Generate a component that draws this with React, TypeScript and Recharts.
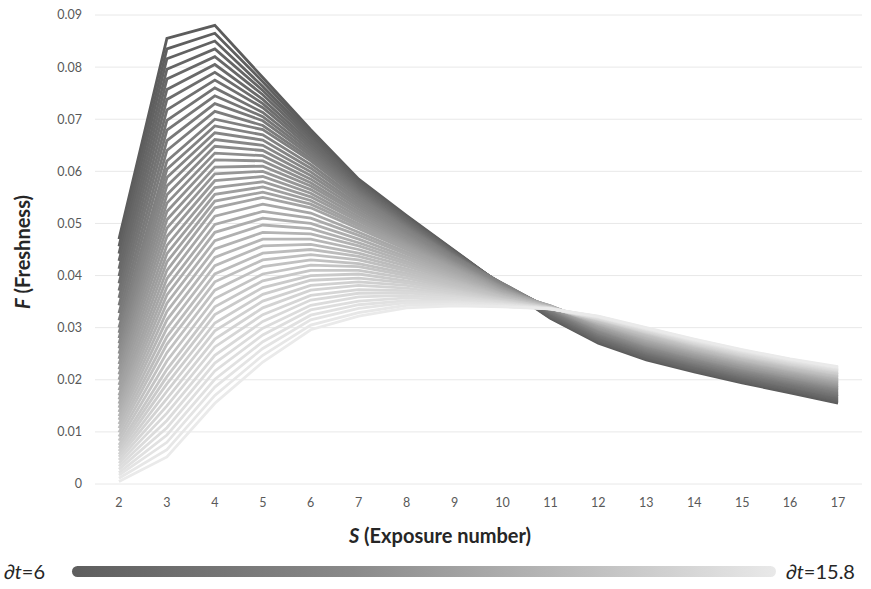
import React from 'react';
import { LineChart, Line, XAxis, YAxis, CartesianGrid } from 'recharts';

// S (exposure number) categories
const exposure = [2, 3, 4, 5, 6, 7, 8, 9, 10, 11, 12, 13, 14, 15, 16, 17];

// one curve per ∂t value
const deltaT = [
  6, 6.2, 6.4, 6.6, 6.8, 7, 7.2, 7.4, 7.6, 7.8, 8, 8.2, 8.4, 8.6, 8.8, 9, 9.2, 9.4, 9.6, 9.8,
  10, 10.2, 10.4, 10.6, 10.8, 11, 11.2, 11.4, 11.6, 11.8, 12, 12.2, 12.4, 12.6, 12.8, 13, 13.2, 13.4, 13.6, 13.8,
  14, 14.2, 14.4, 14.6, 14.8, 15, 15.2, 15.4, 15.6, 15.8,
];

const yTicks = [0, 0.01, 0.02, 0.03, 0.04, 0.05, 0.06, 0.07, 0.08, 0.09];

// F (freshness) at each exposure number, listed from ∂t=6 to ∂t=15.8
const fS2 = [
  0.0470, 0.0456, 0.0442, 0.0428, 0.0413, 0.0399, 0.0385, 0.0371, 0.0357, 0.0343, 0.0328, 0.0314, 0.0300,
  0.0290, 0.0280, 0.0270, 0.0260, 0.0250, 0.0240, 0.0230, 0.0220, 0.0210, 0.0200, 0.0190, 0.0180, 0.0170,
  0.0162, 0.0154, 0.0146, 0.0138, 0.0130, 0.0123, 0.0115, 0.0107, 0.0099, 0.0091, 0.0083, 0.0075,
  0.0069, 0.0063, 0.0057, 0.0052, 0.0046, 0.0040, 0.0034, 0.0028, 0.0022, 0.0017, 0.0011, 0.0005,
];
const fS3 = [
  0.0855, 0.0835, 0.0816, 0.0796, 0.0777, 0.0757, 0.0738, 0.0718, 0.0698, 0.0679, 0.0659, 0.0640, 0.0620,
  0.0604, 0.0588, 0.0572, 0.0555, 0.0539, 0.0523, 0.0507, 0.0491, 0.0475, 0.0458, 0.0442, 0.0426, 0.0410,
  0.0394, 0.0378, 0.0363, 0.0347, 0.0331, 0.0315, 0.0299, 0.0283, 0.0268, 0.0252, 0.0236, 0.0220,
  0.0206, 0.0192, 0.0178, 0.0164, 0.0150, 0.0136, 0.0122, 0.0108, 0.0094, 0.0080, 0.0066, 0.0052,
];
const fS4 = [
  0.0880, 0.0865, 0.0850, 0.0835, 0.0820, 0.0805, 0.0790, 0.0775, 0.0760, 0.0745, 0.0730, 0.0715, 0.0700,
  0.0687, 0.0674, 0.0661, 0.0648, 0.0635, 0.0622, 0.0608, 0.0595, 0.0582, 0.0569, 0.0556, 0.0543, 0.0530,
  0.0514, 0.0498, 0.0483, 0.0467, 0.0451, 0.0435, 0.0419, 0.0403, 0.0388, 0.0372, 0.0356, 0.0340,
  0.0325, 0.0309, 0.0294, 0.0278, 0.0263, 0.0247, 0.0232, 0.0217, 0.0201, 0.0186, 0.0170, 0.0155,
];
const fS5 = [
  0.0780, 0.0772, 0.0763, 0.0755, 0.0747, 0.0738, 0.0730, 0.0722, 0.0713, 0.0705, 0.0697, 0.0688, 0.0680,
  0.0670, 0.0660, 0.0650, 0.0640, 0.0630, 0.0620, 0.0610, 0.0600, 0.0590, 0.0580, 0.0570, 0.0560, 0.0550,
  0.0537, 0.0523, 0.0510, 0.0497, 0.0483, 0.0470, 0.0457, 0.0443, 0.0430, 0.0417, 0.0403, 0.0390,
  0.0377, 0.0364, 0.0351, 0.0338, 0.0325, 0.0312, 0.0299, 0.0286, 0.0273, 0.0260, 0.0247, 0.0234,
];
const fS6 = [
  0.0680, 0.0675, 0.0670, 0.0665, 0.0660, 0.0655, 0.0650, 0.0645, 0.0640, 0.0635, 0.0630, 0.0625, 0.0620,
  0.0613, 0.0606, 0.0599, 0.0592, 0.0585, 0.0578, 0.0572, 0.0565, 0.0558, 0.0551, 0.0544, 0.0537, 0.0530,
  0.0520, 0.0510, 0.0500, 0.0490, 0.0480, 0.0470, 0.0460, 0.0450, 0.0440, 0.0430, 0.0420, 0.0410,
  0.0400, 0.0391, 0.0381, 0.0372, 0.0362, 0.0353, 0.0343, 0.0334, 0.0324, 0.0315, 0.0305, 0.0296,
];
const fS7 = [
  0.0585, 0.0582, 0.0579, 0.0576, 0.0573, 0.0570, 0.0568, 0.0565, 0.0562, 0.0559, 0.0556, 0.0553, 0.0550,
  0.0545, 0.0541, 0.0536, 0.0532, 0.0527, 0.0522, 0.0518, 0.0513, 0.0508, 0.0504, 0.0499, 0.0495, 0.0490,
  0.0483, 0.0477, 0.0470, 0.0463, 0.0457, 0.0450, 0.0443, 0.0437, 0.0430, 0.0423, 0.0417, 0.0410,
  0.0403, 0.0395, 0.0388, 0.0381, 0.0373, 0.0366, 0.0359, 0.0351, 0.0344, 0.0337, 0.0329, 0.0322,
];
const fS8 = [
  0.0515, 0.0513, 0.0511, 0.0509, 0.0507, 0.0505, 0.0503, 0.0500, 0.0498, 0.0496, 0.0494, 0.0492, 0.0490,
  0.0487, 0.0484, 0.0481, 0.0478, 0.0475, 0.0472, 0.0468, 0.0465, 0.0462, 0.0459, 0.0456, 0.0453, 0.0450,
  0.0445, 0.0441, 0.0436, 0.0432, 0.0427, 0.0423, 0.0418, 0.0413, 0.0409, 0.0404, 0.0400, 0.0395,
  0.0390, 0.0386, 0.0381, 0.0376, 0.0371, 0.0367, 0.0362, 0.0357, 0.0352, 0.0348, 0.0343, 0.0338,
];
const fS9 = [
  0.0448, 0.0447, 0.0446, 0.0445, 0.0444, 0.0443, 0.0442, 0.0440, 0.0439, 0.0438, 0.0437, 0.0436, 0.0435,
  0.0433, 0.0431, 0.0429, 0.0427, 0.0425, 0.0423, 0.0422, 0.0420, 0.0418, 0.0416, 0.0414, 0.0412, 0.0410,
  0.0407, 0.0404, 0.0401, 0.0398, 0.0395, 0.0392, 0.0390, 0.0387, 0.0384, 0.0381, 0.0378, 0.0375,
  0.0372, 0.0370, 0.0367, 0.0364, 0.0361, 0.0359, 0.0356, 0.0353, 0.0350, 0.0348, 0.0345, 0.0342,
];
const fS10 = [
  0.0380, 0.0380, 0.0381, 0.0381, 0.0382, 0.0382, 0.0383, 0.0383, 0.0383, 0.0384, 0.0384, 0.0385, 0.0385,
  0.0384, 0.0383, 0.0382, 0.0380, 0.0379, 0.0378, 0.0377, 0.0376, 0.0375, 0.0373, 0.0372, 0.0371, 0.0370,
  0.0369, 0.0368, 0.0366, 0.0365, 0.0364, 0.0363, 0.0361, 0.0360, 0.0359, 0.0358, 0.0356, 0.0355,
  0.0354, 0.0353, 0.0351, 0.0350, 0.0349, 0.0348, 0.0346, 0.0345, 0.0344, 0.0343, 0.0341, 0.0340,
];
const fS11 = [
  0.0318, 0.0319, 0.0321, 0.0322, 0.0324, 0.0325, 0.0327, 0.0328, 0.0329, 0.0331, 0.0332, 0.0334, 0.0335,
  0.0336, 0.0336, 0.0337, 0.0337, 0.0338, 0.0338, 0.0339, 0.0339, 0.0340, 0.0340, 0.0341, 0.0341, 0.0342,
  0.0342, 0.0341, 0.0341, 0.0341, 0.0340, 0.0340, 0.0340, 0.0339, 0.0339, 0.0339, 0.0338, 0.0338,
  0.0338, 0.0338, 0.0338, 0.0337, 0.0337, 0.0337, 0.0337, 0.0337, 0.0336, 0.0336, 0.0336, 0.0336,
];
const fS12 = [
  0.0270, 0.0272, 0.0273, 0.0275, 0.0277, 0.0278, 0.0280, 0.0282, 0.0283, 0.0285, 0.0287, 0.0288, 0.0290,
  0.0291, 0.0292, 0.0293, 0.0295, 0.0296, 0.0297, 0.0298, 0.0299, 0.0300, 0.0302, 0.0303, 0.0304, 0.0305,
  0.0306, 0.0307, 0.0307, 0.0308, 0.0309, 0.0310, 0.0311, 0.0312, 0.0312, 0.0313, 0.0314, 0.0315,
  0.0316, 0.0316, 0.0317, 0.0317, 0.0318, 0.0318, 0.0319, 0.0320, 0.0320, 0.0321, 0.0321, 0.0322,
];
const fS13 = [
  0.0238, 0.0240, 0.0241, 0.0243, 0.0245, 0.0246, 0.0248, 0.0250, 0.0251, 0.0253, 0.0255, 0.0256, 0.0258,
  0.0259, 0.0261, 0.0262, 0.0263, 0.0265, 0.0266, 0.0267, 0.0268, 0.0270, 0.0271, 0.0272, 0.0274, 0.0275,
  0.0276, 0.0278, 0.0279, 0.0280, 0.0281, 0.0283, 0.0284, 0.0285, 0.0286, 0.0288, 0.0289, 0.0290,
  0.0291, 0.0292, 0.0292, 0.0293, 0.0294, 0.0295, 0.0296, 0.0297, 0.0297, 0.0298, 0.0299, 0.0300,
];
const fS14 = [
  0.0215, 0.0217, 0.0218, 0.0220, 0.0222, 0.0223, 0.0225, 0.0227, 0.0228, 0.0230, 0.0232, 0.0233, 0.0235,
  0.0236, 0.0238, 0.0239, 0.0240, 0.0242, 0.0243, 0.0244, 0.0245, 0.0247, 0.0248, 0.0249, 0.0251, 0.0252,
  0.0253, 0.0254, 0.0256, 0.0257, 0.0258, 0.0259, 0.0260, 0.0261, 0.0263, 0.0264, 0.0265, 0.0266,
  0.0267, 0.0268, 0.0269, 0.0270, 0.0271, 0.0272, 0.0273, 0.0274, 0.0275, 0.0276, 0.0277, 0.0278,
];
const fS15 = [
  0.0194, 0.0196, 0.0197, 0.0199, 0.0201, 0.0202, 0.0204, 0.0206, 0.0207, 0.0209, 0.0211, 0.0212, 0.0214,
  0.0215, 0.0217, 0.0218, 0.0219, 0.0221, 0.0222, 0.0223, 0.0224, 0.0226, 0.0227, 0.0228, 0.0230, 0.0231,
  0.0232, 0.0233, 0.0235, 0.0236, 0.0237, 0.0238, 0.0239, 0.0240, 0.0242, 0.0243, 0.0244, 0.0245,
  0.0246, 0.0247, 0.0248, 0.0249, 0.0250, 0.0252, 0.0253, 0.0254, 0.0255, 0.0256, 0.0257, 0.0258,
];
const fS16 = [
  0.0175, 0.0177, 0.0179, 0.0180, 0.0182, 0.0184, 0.0186, 0.0187, 0.0189, 0.0191, 0.0193, 0.0194, 0.0196,
  0.0197, 0.0199, 0.0200, 0.0201, 0.0203, 0.0204, 0.0205, 0.0206, 0.0208, 0.0209, 0.0210, 0.0212, 0.0213,
  0.0214, 0.0215, 0.0217, 0.0218, 0.0219, 0.0220, 0.0221, 0.0222, 0.0224, 0.0225, 0.0226, 0.0227,
  0.0228, 0.0229, 0.0230, 0.0231, 0.0232, 0.0234, 0.0235, 0.0236, 0.0237, 0.0238, 0.0239, 0.0240,
];
const fS17 = [
  0.0155, 0.0157, 0.0159, 0.0161, 0.0163, 0.0165, 0.0167, 0.0168, 0.0170, 0.0172, 0.0174, 0.0176, 0.0178,
  0.0179, 0.0181, 0.0182, 0.0184, 0.0185, 0.0186, 0.0188, 0.0189, 0.0190, 0.0192, 0.0193, 0.0195, 0.0196,
  0.0197, 0.0199, 0.0200, 0.0201, 0.0202, 0.0204, 0.0205, 0.0206, 0.0207, 0.0209, 0.0210, 0.0211,
  0.0212, 0.0213, 0.0215, 0.0216, 0.0217, 0.0218, 0.0219, 0.0220, 0.0222, 0.0223, 0.0224, 0.0225,
];

const byExposure = [fS2, fS3, fS4, fS5, fS6, fS7, fS8, fS9, fS10, fS11, fS12, fS13, fS14, fS15, fS16, fS17];

// recharts wants one row per category
const data = exposure.map((s, k) => {
  const row: any = { s };
  byExposure[k].forEach((v, i) => {
    row[`dt${i}`] = v;
  });
  return row;
});

const FONT = "Lato, 'DejaVu Sans', sans-serif";
const TICK = { fill: '#595959', fontSize: 12.5, fontFamily: FONT };

// dark grey for ∂t=6 fading to near white for ∂t=15.8
const lineColor = (i: number) => {
  const g = Math.round(92 + (234 - 92) * (i / (deltaT.length - 1)));
  return `rgb(${g},${g},${g})`;
};

const App: React.FC = () => {
  return (
    <div style={{ position: 'absolute', left: 0, top: 0, width: 871, height: 589, background: '#fff', fontFamily: FONT }}>
      <LineChart width={871} height={589} data={data} margin={{ top: 15, right: 9, bottom: 75, left: 0 }}>
        <CartesianGrid vertical={false} stroke="#e8e8e8" />
        <XAxis
          dataKey="s"
          type="number"
          domain={[1.5, 17.5]}
          ticks={exposure}
          interval={0}
          axisLine={false}
          tickLine={false}
          tickSize={0}
          tickMargin={14}
          height={30}
          tick={TICK}
        />
        <YAxis
          type="number"
          domain={[0, 0.09]}
          ticks={yTicks}
          interval={0}
          width={95}
          axisLine={false}
          tickLine={false}
          tickSize={0}
          tickMargin={13}
          tick={TICK}
          tickFormatter={(v: number) => (v === 0 ? '0' : v.toFixed(2))}
        />
        {deltaT.map((dt, i) => (
          <Line
            key={`dt${i}`}
            name={`∂t=${dt}`}
            dataKey={`dt${i}`}
            type="linear"
            stroke={lineColor(i)}
            strokeWidth={2.8}
            dot={false}
            activeDot={false}
            isAnimationActive={false}
          />
        ))}
      </LineChart>

      {/* axis titles */}
      <div
        style={{
          position: 'absolute',
          left: 22,
          top: 252,
          transform: 'translate(-50%, -50%) rotate(-90deg)',
          whiteSpace: 'nowrap',
          fontSize: 20,
          fontWeight: 700,
          color: '#262626',
        }}
      >
        <i>F</i> (Freshness)
      </div>
      <div
        style={{
          position: 'absolute',
          left: 440,
          top: 535,
          transform: 'translate(-50%, -50%)',
          whiteSpace: 'nowrap',
          fontSize: 20,
          fontWeight: 700,
          color: '#262626',
        }}
      >
        <i>S</i> (Exposure number)
      </div>

      {/* ∂t colour scale */}
      <div style={{ position: 'absolute', left: 4, top: 559, fontSize: 20, color: '#262626', whiteSpace: 'nowrap' }}>
        <i>∂t</i>=6
      </div>
      <div
        style={{
          position: 'absolute',
          left: 72,
          top: 566,
          width: 704,
          height: 11,
          borderRadius: 6,
          background: 'linear-gradient(to right, #5e5e5e, #8a8a8a 40%, #e9e9e9)',
        }}
      />
      <div style={{ position: 'absolute', left: 786, top: 559, fontSize: 20, color: '#262626', whiteSpace: 'nowrap' }}>
        <i>∂t</i>=15.8
      </div>
    </div>
  );
};

export default App;
